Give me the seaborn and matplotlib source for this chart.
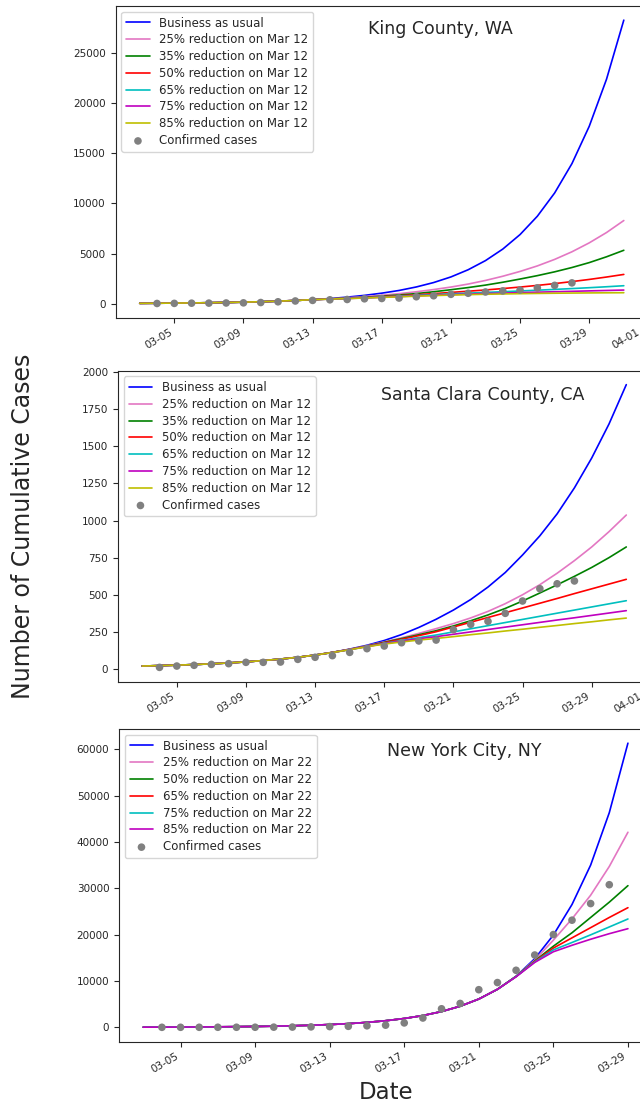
import matplotlib
matplotlib.use("Agg")
import matplotlib.pyplot as plt
import matplotlib.dates as mdates
import pandas as pd
import seaborn as sns

# ---- data ----
# model days start 2020-03-03, confirmed cases start 2020-03-04
king_labels = ["Business as usual", "25% reduction on Mar 12", "35% reduction on Mar 12",
               "50% reduction on Mar 12", "65% reduction on Mar 12", "75% reduction on Mar 12",
               "85% reduction on Mar 12"]
king_bau = [36, 46, 59, 75, 95, 121, 154, 196, 250, 318, 405, 515, 655, 830, 1050, 1320, 1670, 2110,
            2670, 3390, 4300, 5450, 6900, 8730, 11050, 13980, 17700, 22400, 28300]
king_25 = [36, 46, 59, 75, 95, 121, 154, 196, 250, 318, 405, 490, 590, 705, 840, 1000, 1190, 1410,
           1660, 1960, 2320, 2740, 3220, 3770, 4420, 5180, 6070, 7100, 8300]
king_35 = [36, 46, 59, 75, 95, 121, 154, 196, 250, 318, 405, 475, 555, 645, 750, 870, 1010, 1190,
           1395, 1610, 1855, 2140, 2460, 2800, 3180, 3610, 4100, 4680, 5330]
king_50 = [36, 46, 59, 75, 95, 121, 154, 196, 250, 318, 405, 465, 535, 612, 697, 790, 890, 1003,
           1125, 1245, 1370, 1510, 1660, 1825, 2005, 2205, 2420, 2660, 2920]
king_65 = [36, 46, 59, 75, 95, 121, 154, 196, 250, 318, 405, 462, 525, 592, 665, 745, 825, 905,
           985, 1055, 1125, 1195, 1268, 1345, 1425, 1508, 1595, 1690, 1793]
king_75 = [36, 46, 59, 75, 95, 121, 154, 196, 250, 318, 405, 460, 515, 575, 640, 710, 780, 845,
           905, 960, 1012, 1060, 1105, 1150, 1193, 1235, 1277, 1319, 1361]
king_85 = [36, 46, 59, 75, 95, 121, 154, 196, 250, 318, 405, 458, 510, 565, 625, 688, 750, 808,
           860, 903, 940, 972, 1000, 1024, 1044, 1061, 1075, 1086, 1096]
king_obs = [21, 31, 51, 58, 71, 83, 116, 190, 270, 328, 387, 420, 488, 518, 562, 693, 793, 934,
            1040, 1170, 1277, 1359, 1577, 1828, 2077]

sc_labels = king_labels
sc_bau = [20, 23, 26, 30, 35, 41, 48, 57, 67, 79, 94, 112, 134, 160, 192, 232, 280, 335, 397, 468,
          552, 650, 768, 897, 1045, 1220, 1421, 1650, 1915]
sc_25 = [20, 23, 26, 30, 35, 41, 48, 57, 67, 79, 94, 112, 133, 157, 183, 210, 240, 272, 306, 344,
         388, 440, 500, 568, 645, 730, 822, 925, 1037]
sc_35 = [20, 23, 26, 30, 35, 41, 48, 57, 67, 79, 94, 112, 132, 155, 180, 205, 231, 258, 290, 325,
         364, 408, 458, 512, 567, 624, 684, 750, 822]
sc_50 = [20, 23, 26, 30, 35, 41, 48, 57, 67, 79, 94, 112, 132, 154, 177, 200, 225, 251, 283, 315,
         347, 379, 411, 443, 475, 508, 540, 572, 604]
sc_65 = [20, 23, 26, 30, 35, 41, 48, 57, 67, 79, 94, 111, 131, 152, 173, 192, 211, 229, 250, 271,
         292, 313, 334, 355, 376, 397, 418, 439, 460]
sc_75 = [20, 23, 26, 30, 35, 41, 48, 57, 67, 79, 94, 111, 131, 151, 171, 188, 204, 218, 234, 250,
         266, 282, 298, 314, 330, 345, 361, 377, 393]
sc_85 = [20, 23, 26, 30, 35, 41, 48, 57, 67, 79, 94, 111, 130, 150, 168, 182, 195, 206, 218, 231,
         243, 256, 268, 281, 293, 306, 318, 331, 343]
sc_obs = [11, 20, 25, 31, 36, 45, 45, 47, 65, 79, 90, 112, 137, 155, 177, 189, 195, 265, 301, 321,
          375, 458, 541, 574, 593]

nyc_labels = ["Business as usual", "25% reduction on Mar 22", "50% reduction on Mar 22",
              "65% reduction on Mar 22", "75% reduction on Mar 22", "85% reduction on Mar 22"]
nyc_bau = [32, 43, 57, 77, 103, 138, 185, 248, 332, 445, 595, 795, 1060, 1420, 1900, 2540, 3400,
           4550, 6100, 8200, 11000, 14800, 19900, 26500, 35000, 46300, 61300]
nyc_25 = [32, 43, 57, 77, 103, 138, 185, 248, 332, 445, 595, 795, 1060, 1420, 1900, 2540, 3400,
          4550, 6100, 8200, 11000, 14500, 18800, 23400, 28500, 34700, 42080]
nyc_50 = [32, 43, 57, 77, 103, 138, 185, 248, 332, 445, 595, 795, 1060, 1420, 1900, 2540, 3400,
          4550, 6100, 8200, 11000, 14300, 17500, 20400, 23700, 27000, 30560]
nyc_65 = [32, 43, 57, 77, 103, 138, 185, 248, 332, 445, 595, 795, 1060, 1420, 1900, 2540, 3400,
          4550, 6100, 8200, 10950, 14200, 17100, 19300, 21500, 23700, 25810]
nyc_75 = [32, 43, 57, 77, 103, 138, 185, 248, 332, 445, 595, 795, 1060, 1420, 1900, 2540, 3400,
          4550, 6100, 8200, 10950, 14100, 16700, 18300, 19950, 21650, 23370]
nyc_85 = [32, 43, 57, 77, 103, 138, 185, 248, 332, 445, 595, 795, 1060, 1420, 1900, 2540, 3400,
          4550, 6100, 8200, 10900, 14000, 16300, 17700, 19000, 20200, 21280]
nyc_obs = [1, 4, 5, 12, 13, 16, 36, 52, 95, 154, 213, 329, 463, 950, 2009, 4000, 5151, 8115, 9654,
           12305, 15597, 20011, 23112, 26697, 30766]

colors = ["b", "tab:pink", "g", "r", "c", "m", "y"]

king_dates = pd.date_range("2020-03-03", periods=len(king_bau))
sc_dates = pd.date_range("2020-03-03", periods=len(sc_bau))
nyc_dates = pd.date_range("2020-03-03", periods=len(nyc_bau))
king_obs_dates = pd.date_range("2020-03-04", periods=len(king_obs))
sc_obs_dates = pd.date_range("2020-03-04", periods=len(sc_obs))
nyc_obs_dates = pd.date_range("2020-03-04", periods=len(nyc_obs))

sns.set_style("ticks")
plt.rcParams['font.family'] = ['DejaVu Sans']

fig = plt.figure(figsize=(6.4, 11.06), dpi=100)
ax1 = fig.add_axes([0.1805, 0.7128, 0.832, 0.2818])
ax2 = fig.add_axes([0.1844, 0.3838, 0.832, 0.2812])
ax3 = fig.add_axes([0.186, 0.0583, 0.833, 0.2826])


def draw_panel(ax, dates, series, labels, obs_dates, obs, title, tx, ty):
    for vals, lab, col in zip(series, labels, colors):
        sns.lineplot(x=dates, y=vals, color=col, label=lab, linewidth=1.2, ax=ax)
    sns.scatterplot(x=obs_dates, y=obs, color="grey", s=30, edgecolor="none",
                    label="Confirmed cases", ax=ax, zorder=3)
    ax.legend(loc="upper left", fontsize=8.5, labelspacing=0.32, handlelength=2.0)
    ax.text(tx, ty, title, transform=ax.transAxes, ha="center", va="center", fontsize=12.5)
    ax.xaxis.set_major_locator(mdates.DayLocator(bymonthday=[1, 5, 9, 13, 17, 21, 25, 29]))
    ax.xaxis.set_major_formatter(mdates.DateFormatter("%m-%d"))
    ax.tick_params(labelsize=7.5)
    plt.setp(ax.get_xticklabels(), rotation=30, ha="right")
    ax.set_xlabel("")
    ax.set_ylabel("")


draw_panel(ax1, king_dates, [king_bau, king_25, king_35, king_50, king_65, king_75, king_85],
           king_labels, king_obs_dates, king_obs, "King County, WA", 0.611, 0.926)
draw_panel(ax2, sc_dates, [sc_bau, sc_25, sc_35, sc_50, sc_65, sc_75, sc_85],
           sc_labels, sc_obs_dates, sc_obs, "Santa Clara County, CA", 0.684, 0.921)
draw_panel(ax3, nyc_dates, [nyc_bau, nyc_25, nyc_50, nyc_65, nyc_75, nyc_85],
           nyc_labels, nyc_obs_dates, nyc_obs, "New York City, NY", 0.648, 0.93)

ax2.set_ylabel("Number of Cumulative Cases", fontsize=17)
ax2.yaxis.set_label_coords(-0.155, 0.5)
ax3.set_xlabel("Date", fontsize=16.5)

fig.savefig("out.png", dpi=100)
